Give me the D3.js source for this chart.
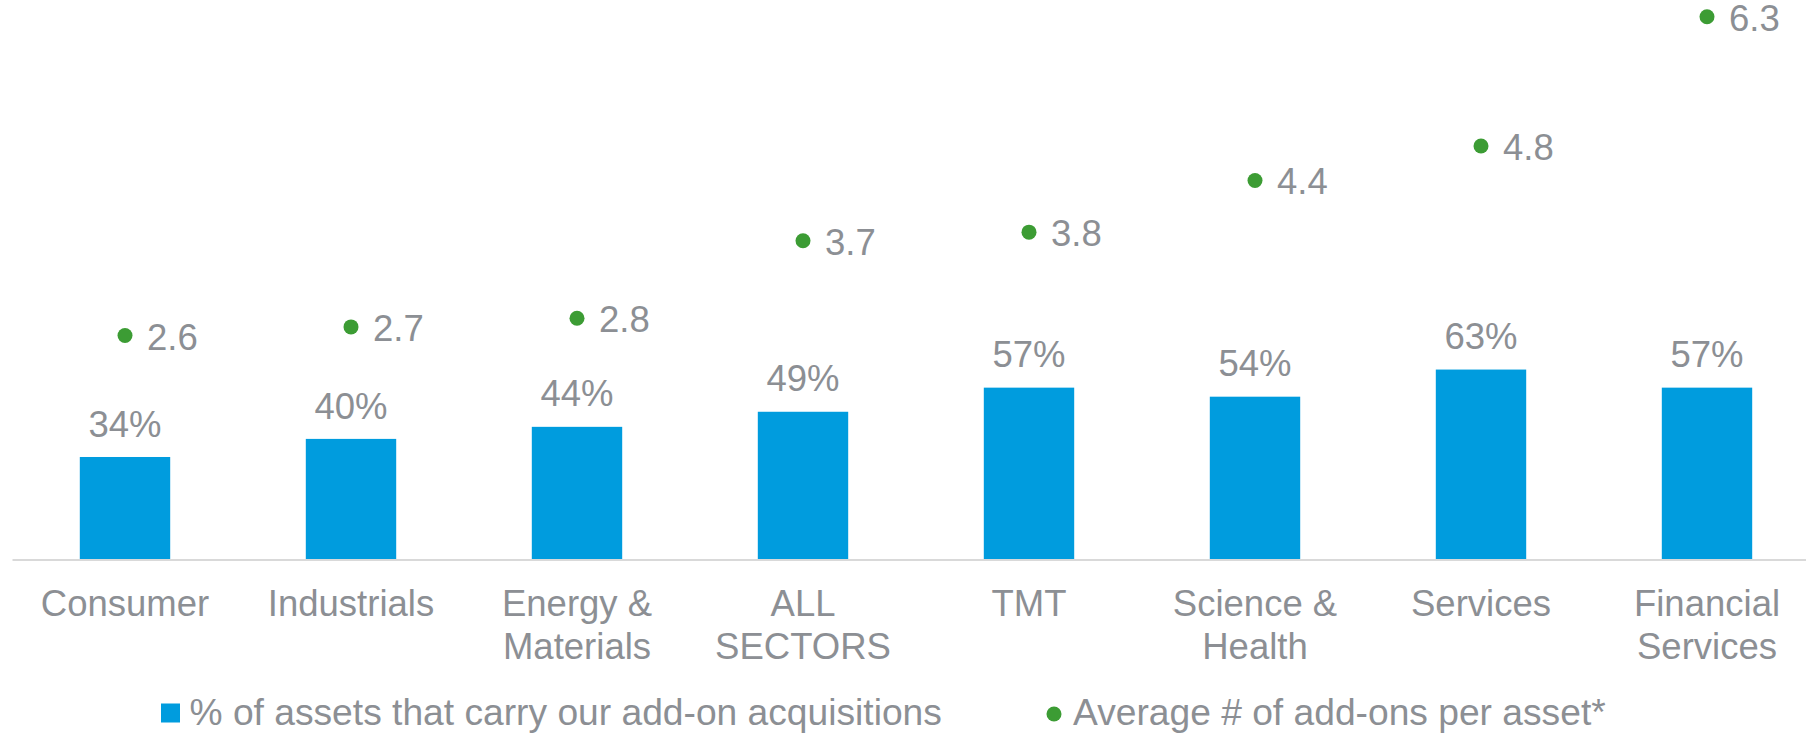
<!DOCTYPE html>
<html>
<head>
<meta charset="utf-8">
<script src="https://cdn.jsdelivr.net/npm/d3@7"></script>
<style>
  html, body { margin: 0; padding: 0; background: #ffffff; }
  svg { display: block; font-family: "Liberation Sans", Arial, sans-serif; }
</style>
</head>
<body>
<svg id="chart" width="1806" height="734"></svg>
<script>
// Sector names (line breaks mark the wrapped axis labels)
const categories = [
  "Consumer",
  "Industrials",
  "Energy &\nMaterials",
  "ALL\nSECTORS",
  "TMT",
  "Science &\nHealth",
  "Services",
  "Financial\nServices"
];
// Share of assets carrying add-on acquisitions (percent)
const shareValues = [34, 40, 44, 49, 57, 54, 63, 57];
// Average number of add-ons per asset
const avgAddOns = [2.6, 2.7, 2.8, 3.7, 3.8, 4.4, 4.8, 6.3];

const seriesNames = [
  "% of assets that carry our add-on acquisitions",
  "Average # of add-ons per asset*"
];

const BLUE = "#009cde";
const GREEN = "#3c9c34";
const GREY = "#8c8f94";
const FONT = 36.5;
const LEGEND_FONT = 37.2;

const svg = d3.select("#chart");

const baseY = 559.5;
const plotH = 603;
const left = 12, step = 226;

const x = d3.scaleBand()
  .domain(categories)
  .range([left, left + step * categories.length])
  .paddingInner(0.6)
  .paddingOuter(0.3);

const yShare = d3.scaleLinear().domain([0, 200]).range([baseY, baseY - plotH]);
const yAvg = d3.scaleLinear().domain([0, 7]).range([baseY, baseY - plotH]);

const cx = d => x(d) + x.bandwidth() / 2;

// Bars
svg.append("g").selectAll("rect")
  .data(categories)
  .join("rect")
  .attr("x", d => x(d))
  .attr("width", x.bandwidth())
  .attr("y", (d, i) => yShare(shareValues[i]))
  .attr("height", (d, i) => baseY - yShare(shareValues[i]))
  .attr("fill", BLUE);

// Bar value labels
svg.append("g").selectAll("text")
  .data(categories)
  .join("text")
  .attr("x", d => cx(d))
  .attr("y", (d, i) => yShare(shareValues[i]) - 20.4)
  .attr("text-anchor", "middle")
  .attr("font-size", FONT)
  .attr("fill", GREY)
  .text((d, i) => shareValues[i] + "%");

// Category axis
const axis = d3.axisBottom(x).tickSize(0).tickSizeOuter(0);
const gx = svg.append("g")
  .attr("transform", `translate(0,${baseY})`)
  .call(axis);
gx.select(".domain").attr("stroke", "#d9d9d9").attr("stroke-width", 2);
gx.selectAll(".tick text").each(function(d) {
  const t = d3.select(this);
  t.text(null)
    .attr("y", 56.5)
    .attr("dy", null)
    .attr("font-size", FONT)
    .attr("font-family", "Liberation Sans, Arial, sans-serif")
    .attr("fill", GREY);
  d.split("\n").forEach((line, k) => {
    t.append("tspan").attr("x", 0).attr("dy", k === 0 ? 0 : 43.3).text(line);
  });
});

// Average add-ons markers
svg.append("g").selectAll("circle")
  .data(categories)
  .join("circle")
  .attr("cx", d => cx(d))
  .attr("cy", (d, i) => yAvg(avgAddOns[i]))
  .attr("r", 7.5)
  .attr("fill", GREEN);

svg.append("g").selectAll("text")
  .data(categories)
  .join("text")
  .attr("x", d => cx(d) + 22)
  .attr("y", (d, i) => yAvg(avgAddOns[i]) + 14)
  .attr("font-size", FONT)
  .attr("fill", GREY)
  .text((d, i) => avgAddOns[i].toFixed(1));

// Legend
const legend = svg.append("g");
legend.append("rect")
  .attr("x", 161).attr("y", 703.5)
  .attr("width", 19).attr("height", 19)
  .attr("fill", BLUE);
legend.append("text")
  .attr("x", 189.5).attr("y", 724.5)
  .attr("font-size", LEGEND_FONT)
  .attr("fill", GREY)
  .text(seriesNames[0]);
legend.append("circle")
  .attr("cx", 1054).attr("cy", 714)
  .attr("r", 7.5)
  .attr("fill", GREEN);
legend.append("text")
  .attr("x", 1073).attr("y", 724.5)
  .attr("font-size", LEGEND_FONT)
  .attr("fill", GREY)
  .text(seriesNames[1]);
</script>
</body>
</html>
